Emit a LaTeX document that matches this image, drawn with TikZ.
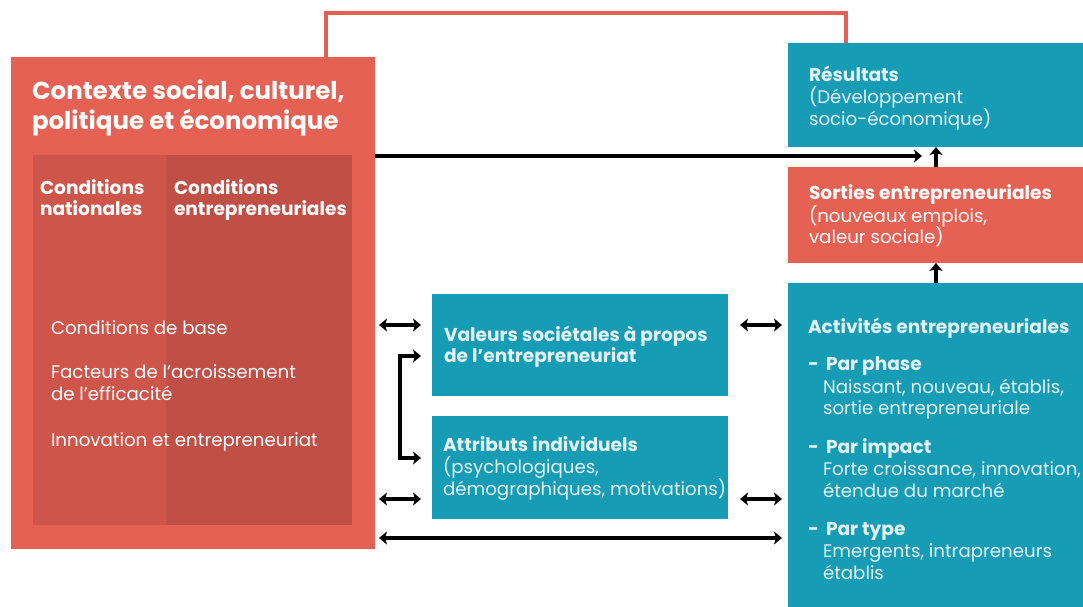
\documentclass[tikz,border=0pt]{standalone}
\usepackage{fontspec}
\setmainfont{Poppins}
\usetikzlibrary{arrows.meta}
\definecolor{redc}{HTML}{E46153}
\definecolor{tealc}{HTML}{169CB5}
\definecolor{darkA}{HTML}{CD554A}
\definecolor{darkB}{HTML}{C04F45}
\definecolor{txtT}{HTML}{E4F3F6}
\begin{document}
\begin{tikzpicture}[x=1pt,y=-1pt,
  box/.style={inner sep=0pt, outer sep=0pt, anchor=north west, minimum width=#1},
  lbl/.style={anchor=base west, inner sep=0pt, outer sep=0pt, text=white, font=\fontsize{18.2}{22}\selectfont},
  lblb/.style={lbl, font=\fontsize{18.6}{22}\selectfont\bfseries},
  ttl/.style={lbl, font=\fontsize{24.5}{29}\selectfont\bfseries},
  lt/.style={lbl, text=txtT},
  ltb/.style={lblb, text=txtT},
  mytip/.tip={Stealth[length=8pt,width=13pt,inset=2pt]},
  arr/.style={line width=3.6pt, -mytip},
  darr/.style={line width=3.6pt, mytip-mytip},
  redline/.style={line width=3.8pt, draw=redc}
]
\useasboundingbox (0,0) rectangle (1083,607);

% boxes
\node[box=364pt, minimum height=492pt, fill=redc] (ctx) at (11,57) {};
\node[box=133pt, minimum height=370pt, fill=darkA] (nat) at (33,155) {};
\node[box=186pt, minimum height=370pt, fill=darkB] (ent) at (166,155) {};
\node[box=295pt, minimum height=104pt, fill=tealc] (res) at (788,43) {};
\node[box=295pt, minimum height=96pt, fill=redc] (sor) at (788,167) {};
\node[box=295pt, minimum height=324pt, fill=tealc] (act) at (788,283) {};
\node[box=296pt, minimum height=102pt, fill=tealc] (val) at (432,294) {};
\node[box=296pt, minimum height=103pt, fill=tealc] (att) at (432,416) {};

% red feedback line
\coordinate (rl1) at (326,13);
\coordinate (rl2) at (846,13);
\draw[redline] (ctx.north -| rl1) -- (rl1) -- (rl2) -- (res.north -| rl2);

% arrows
\coordinate (hEnd) at (922,156);
\draw[arr] (ctx.east |- hEnd) -- (hEnd);
\coordinate (vx) at (936,0);
\draw[arr] (sor.north -| vx) -- (res.south -| vx);
\draw[arr] (act.north -| vx) -- (sor.south -| vx);

\coordinate (r1) at (0,325);
\coordinate (r2) at (0,499);
\coordinate (r3) at (0,538);
\draw[darr, shorten <=4pt, shorten >=11pt] (ctx.east |- r1) -- (val.west |- r1);
\draw[darr, shorten <=12pt, shorten >=6pt] (val.east |- r1) -- (act.west |- r1);
\draw[darr, shorten <=4pt, shorten >=11pt] (ctx.east |- r2) -- (att.west |- r2);
\draw[darr, shorten <=12pt, shorten >=6pt] (att.east |- r2) -- (act.west |- r2);
\draw[darr, shorten <=4pt, shorten >=6pt] (ctx.east |- r3) -- (act.west |- r3);

\coordinate (b1) at (0,356);
\coordinate (b2) at (0,458);
\coordinate (bx) at (400,0);
\draw[darr, shorten <=11pt, shorten >=11pt] (val.west |- b1) -- (bx |- b1) -- (bx |- b2) -- (att.west |- b2);

% texts: left box
\node[ttl] (t1) at (32,100) {Contexte social, culturel,};
\node[ttl] (t2) at (32,129) {politique et économique};
\node[lblb] (t3) at (40,194) {Conditions};
\node[lblb] (t4) at (40,215) {nationales};
\node[lblb] (t5) at (174,194) {Conditions};
\node[lblb] (t6) at (174,215) {entrepreneuriales};
\node[lbl] (t7) at (51,334) {Conditions de base};
\node[lbl] (t8) at (51,378) {Facteurs de l’acroissement};
\node[lbl] (t9) at (51,400) {de l’efficacité};
\node[lbl] (t10) at (51,446) {Innovation et entrepreneuriat};

% middle boxes
\node[ltb] (t11) at (444,341) {Valeurs sociétales à propos};
\node[ltb] (t12) at (444,362) {de l’entrepreneuriat};
\node[ltb] (t13) at (443,451) {Attributs individuels};
\node[lt] (t14) at (443,473) {(psychologiques,};
\node[lt] (t15) at (443,495) {démographiques, motivations)};

% right boxes
\node[ltb] (t16) at (809,82) {Résultats};
\node[lt] (t17) at (809,103) {(Développement};
\node[lt] (t18) at (809,125) {socio-économique)};
\node[lblb] (t19) at (809,199) {Sorties entrepreneuriales};
\node[lbl] (t20) at (809,222) {(nouveaux emplois,};
\node[lbl] (t21) at (809,243) {valeur sociale)};

\node[ltb] (t22) at (808,333) {Activités entrepreneuriales};
\node[ltb] (t23) at (808,370) {-};
\node[ltb] (t24) at (826,370) {Par phase};
\node[lt] (t25) at (823,393) {Naissant, nouveau, établis,};
\node[lt] (t26) at (823,414) {sortie entrepreneuriale};
\node[ltb] (t27) at (808,453) {-};
\node[ltb] (t28) at (826,453) {Par impact};
\node[lt] (t29) at (823,475) {Forte croissance, innovation,};
\node[lt] (t30) at (823,497) {étendue du marché};
\node[ltb] (t31) at (808,535) {-};
\node[ltb] (t32) at (826,535) {Par type};
\node[lt] (t33) at (823,557) {Emergents, intrapreneurs};
\node[lt] (t34) at (823,579) {établis};
\end{tikzpicture}
\end{document}
